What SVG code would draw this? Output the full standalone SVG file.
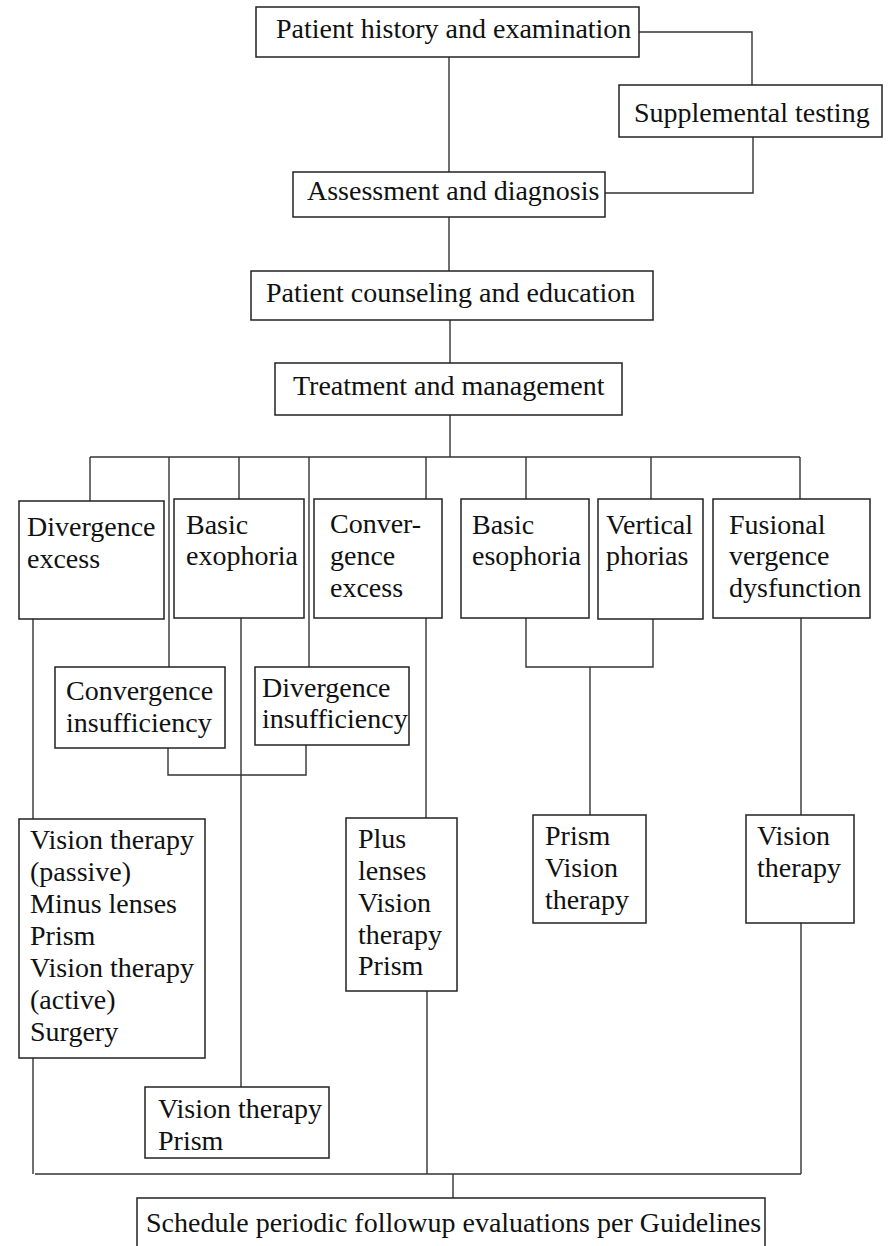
<svg xmlns="http://www.w3.org/2000/svg" width="888" height="1246" viewBox="0 0 888 1246">
<style>
.box{fill:#fff;stroke:#222;stroke-width:1.5}
.t{font-family:"Liberation Serif","Times New Roman",serif;font-size:28px;fill:#111}
.c{fill:none;stroke:#333;stroke-width:1.4}
</style>
<rect width="888" height="1246" fill="#fff"/>
<g id="connectors">
<path class="c" d="M449,57 V172"/>
<path class="c" d="M639,32 H752 V85"/>
<path class="c" d="M753,137 V193 H605"/>
<path class="c" d="M449,217 V271"/>
<path class="c" d="M450,320 V363"/>
<path class="c" d="M450,415 V457"/>
<path class="c" d="M90,457 H800"/>
<path class="c" d="M90,457 V501"/>
<path class="c" d="M169,457 V667"/>
<path class="c" d="M239,457 V499"/>
<path class="c" d="M309,457 V667"/>
<path class="c" d="M426,457 V499"/>
<path class="c" d="M526,457 V499"/>
<path class="c" d="M651,457 V499"/>
<path class="c" d="M800,457 V499"/>
<path class="c" d="M168,748 V775 H306 V745"/>
<path class="c" d="M526,618 V667 H653 V619"/>
<path class="c" d="M590,667 V815"/>
<path class="c" d="M33,619 V819"/>
<path class="c" d="M241,618 V1087"/>
<path class="c" d="M426,618 V818"/>
<path class="c" d="M801,618 V815"/>
<path class="c" d="M33,1058 V1174"/>
<path class="c" d="M427,991 V1174"/>
<path class="c" d="M801,923 V1174"/>
<path class="c" d="M35,1174 H801"/>
<path class="c" d="M453,1174 V1198"/>
</g>
<g id="n-history"><rect class="box" x="256" y="7" width="383" height="50"/><text class="t" x="276" y="38">Patient history and examination</text></g>
<g id="n-supplemental"><rect class="box" x="619" y="85" width="263" height="52"/><text class="t" x="634" y="122">Supplemental testing</text></g>
<g id="n-assessment"><rect class="box" x="293" y="172" width="312" height="45"/><text class="t" x="307" y="200">Assessment and diagnosis</text></g>
<g id="n-counseling"><rect class="box" x="251" y="271" width="402" height="49"/><text class="t" x="266" y="302">Patient counseling and education</text></g>
<g id="n-treatment"><rect class="box" x="275" y="363" width="347" height="52"/><text class="t" x="293" y="395">Treatment and management</text></g>
<g id="n-div-excess"><rect class="box" x="19" y="501" width="145" height="118"/><text class="t" x="27" y="536">Divergence</text><text class="t" x="27" y="568">excess</text></g>
<g id="n-basic-exo"><rect class="box" x="174" y="499" width="130" height="119"/><text class="t" x="186" y="534">Basic</text><text class="t" x="186" y="565">exophoria</text></g>
<g id="n-conv-excess"><rect class="box" x="314" y="499" width="128" height="119"/><text class="t" x="330" y="533">Conver-</text><text class="t" x="330" y="565">gence</text><text class="t" x="330" y="597">excess</text></g>
<g id="n-basic-eso"><rect class="box" x="461" y="499" width="128" height="119"/><text class="t" x="472" y="534">Basic</text><text class="t" x="472" y="565">esophoria</text></g>
<g id="n-vertical"><rect class="box" x="598" y="499" width="105" height="120"/><text class="t" x="606" y="534">Vertical</text><text class="t" x="606" y="565">phorias</text></g>
<g id="n-fusional"><rect class="box" x="713" y="499" width="157" height="119"/><text class="t" x="729" y="534">Fusional</text><text class="t" x="729" y="565">vergence</text><text class="t" x="729" y="597">dysfunction</text></g>
<g id="n-conv-insuff"><rect class="box" x="55" y="667" width="170" height="81"/><text class="t" x="66" y="700">Convergence</text><text class="t" x="66" y="732">insufficiency</text></g>
<g id="n-div-insuff"><rect class="box" x="255" y="667" width="154" height="78"/><text class="t" x="262" y="697">Divergence</text><text class="t" x="262" y="728">insufficiency</text></g>
<g id="n-tx-div-excess"><rect class="box" x="19" y="819" width="186" height="239"/><text class="t" x="30" y="849">Vision therapy</text><text class="t" x="30" y="881">(passive)</text><text class="t" x="30" y="913">Minus lenses</text><text class="t" x="30" y="945">Prism</text><text class="t" x="30" y="977">Vision therapy</text><text class="t" x="30" y="1009">(active)</text><text class="t" x="30" y="1041">Surgery</text></g>
<g id="n-tx-basic-exo"><rect class="box" x="145" y="1087" width="184" height="71"/><text class="t" x="158" y="1118">Vision therapy</text><text class="t" x="158" y="1150">Prism</text></g>
<g id="n-tx-conv-excess"><rect class="box" x="346" y="818" width="111" height="173"/><text class="t" x="358" y="848">Plus</text><text class="t" x="358" y="880">lenses</text><text class="t" x="358" y="912">Vision</text><text class="t" x="358" y="944">therapy</text><text class="t" x="358" y="975">Prism</text></g>
<g id="n-tx-eso"><rect class="box" x="533" y="815" width="113" height="108"/><text class="t" x="545" y="845">Prism</text><text class="t" x="545" y="877">Vision</text><text class="t" x="545" y="909">therapy</text></g>
<g id="n-tx-fusional"><rect class="box" x="746" y="815" width="108" height="108"/><text class="t" x="757" y="845">Vision</text><text class="t" x="757" y="877">therapy</text></g>
<g id="n-followup"><rect class="box" x="137" y="1198" width="628" height="70"/><text class="t" x="146" y="1232">Schedule periodic followup evaluations per Guidelines</text></g>
</svg>
